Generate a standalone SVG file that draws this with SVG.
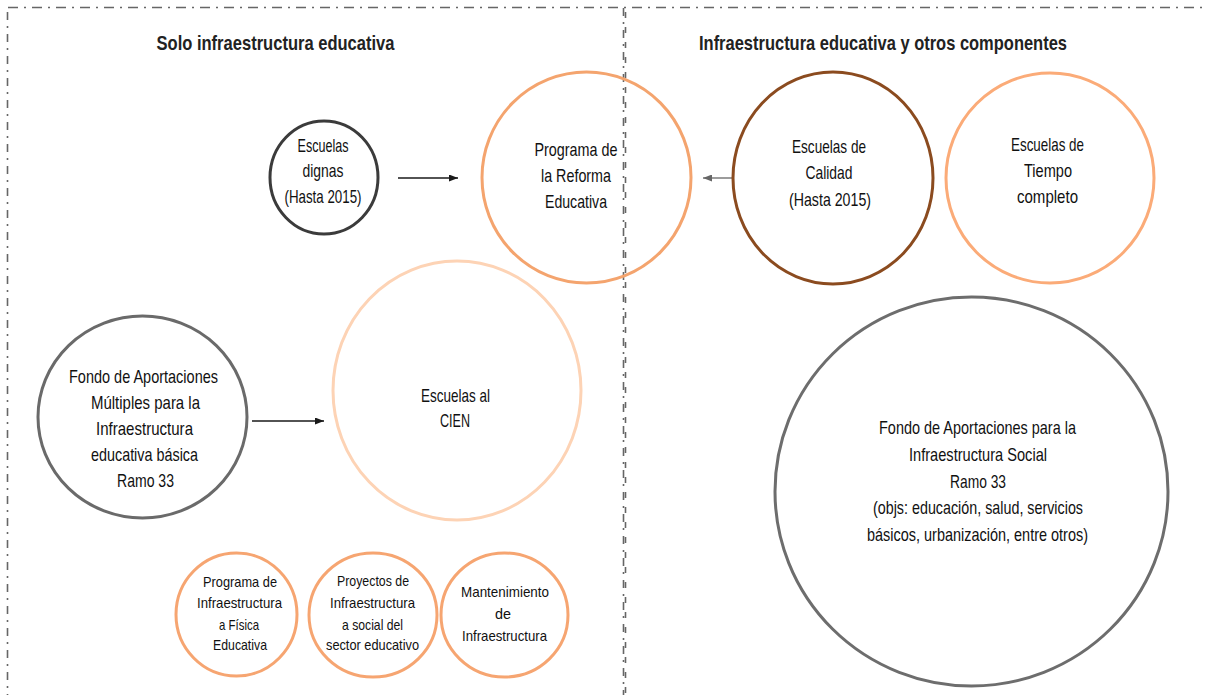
<svg xmlns="http://www.w3.org/2000/svg" width="1206" height="695" viewBox="0 0 1206 695">
<style>
.frame{stroke:#666;stroke-width:1.6;fill:none}
.node{fill:none;stroke-width:3}
.t{font-family:"Liberation Sans",Arial,sans-serif;font-size:19px;fill:#111;text-anchor:middle}
.s{font-size:15px}
.title{font-family:"Liberation Sans",Arial,sans-serif;font-size:21px;font-weight:bold;fill:#222;text-anchor:middle}
.conn{stroke-width:1.3;fill:none}
</style>
<defs>
<marker id="arrB" markerUnits="userSpaceOnUse" markerWidth="9" markerHeight="7" refX="9" refY="3.5" orient="auto"><path d="M0,0 L9,3.5 L0,7 z" fill="#1a1a1a"/></marker>
<marker id="arrG" markerUnits="userSpaceOnUse" markerWidth="9" markerHeight="7" refX="9" refY="3.5" orient="auto"><path d="M0,0 L9,3.5 L0,7 z" fill="#666"/></marker>
</defs>
<rect width="1206" height="695" fill="#fff"/>
<g id="frame">
<line class="frame" x1="8" y1="7.5" x2="1206" y2="7.5" stroke-dasharray="10 6 2 6"/>
<line class="frame" x1="7.5" y1="12" x2="7.5" y2="695" stroke-dasharray="8 6 2 6"/>
<line class="frame" x1="623.5" y1="8" x2="623.5" y2="695" stroke-dasharray="8 6 2 6" stroke="#555"/>
<line class="frame" x1="625.5" y1="12" x2="625.5" y2="695" stroke-dasharray="6 9" stroke="#888" stroke-width="1.2"/>
</g>
<g id="titles">
<text class="title" x="275.5" y="50" textLength="238" lengthAdjust="spacingAndGlyphs">Solo infraestructura educativa</text>
<text class="title" x="883" y="50" textLength="368" lengthAdjust="spacingAndGlyphs">Infraestructura educativa y otros componentes</text>
</g>
<g id="connectors">
<line class="conn" x1="398" y1="178" x2="458" y2="178" stroke="#1a1a1a" marker-end="url(#arrB)"/>
<line class="conn" x1="733" y1="178" x2="703" y2="178" stroke="#666" marker-end="url(#arrG)"/>
<line class="conn" x1="252" y1="421" x2="324" y2="421" stroke="#1a1a1a" marker-end="url(#arrB)"/>
</g>
<g id="escuelas-dignas">
<ellipse class="node" cx="324" cy="177.5" rx="54" ry="56.5" stroke="#3b3b3b"/>
<text class="t" x="323" y="152" textLength="51" lengthAdjust="spacingAndGlyphs">Escuelas</text>
<text class="t" x="323" y="177" textLength="41" lengthAdjust="spacingAndGlyphs">dignas</text>
<text class="t" x="323" y="203" textLength="77" lengthAdjust="spacingAndGlyphs">(Hasta 2015)</text>
</g>
<g id="reforma-educativa">
<ellipse class="node" cx="586.5" cy="177.5" rx="104.5" ry="105.5" stroke="#F4A46E"/>
<text class="t" x="576" y="156" textLength="83" lengthAdjust="spacingAndGlyphs">Programa de</text>
<text class="t" x="576" y="182" textLength="70" lengthAdjust="spacingAndGlyphs">la Reforma</text>
<text class="t" x="576" y="208" textLength="62" lengthAdjust="spacingAndGlyphs">Educativa</text>
</g>
<g id="escuelas-calidad">
<ellipse class="node" cx="833" cy="178" rx="100" ry="106" stroke="#8B4B1F"/>
<text class="t" x="829" y="152.5" textLength="74" lengthAdjust="spacingAndGlyphs">Escuelas de</text>
<text class="t" x="829" y="179" textLength="47" lengthAdjust="spacingAndGlyphs">Calidad</text>
<text class="t" x="830" y="205.5" textLength="82" lengthAdjust="spacingAndGlyphs">(Hasta 2015)</text>
</g>
<g id="tiempo-completo">
<ellipse class="node" cx="1050" cy="178" rx="104" ry="105" stroke="#FBAB78"/>
<text class="t" x="1047.5" y="150.7" textLength="73" lengthAdjust="spacingAndGlyphs">Escuelas de</text>
<text class="t" x="1048" y="176.7" textLength="48" lengthAdjust="spacingAndGlyphs">Tiempo</text>
<text class="t" x="1047.5" y="203.3" textLength="61" lengthAdjust="spacingAndGlyphs">completo</text>
</g>
<g id="escuelas-cien">
<ellipse class="node" cx="457" cy="390.5" rx="124" ry="129.5" stroke="#FDD3B5"/>
<text class="t" x="455.5" y="401.7" textLength="69" lengthAdjust="spacingAndGlyphs">Escuelas al</text>
<text class="t" x="455" y="426.7" textLength="30" lengthAdjust="spacingAndGlyphs">CIEN</text>
</g>
<g id="fam">
<ellipse class="node" cx="142.5" cy="417" rx="104.5" ry="101" stroke="#6a6a6a"/>
<text class="t" x="143.5" y="383" textLength="149" lengthAdjust="spacingAndGlyphs">Fondo de Aportaciones</text>
<text class="t" x="145.5" y="409" textLength="109" lengthAdjust="spacingAndGlyphs">Múltiples para la</text>
<text class="t" x="144.5" y="435" textLength="97" lengthAdjust="spacingAndGlyphs">Infraestructura</text>
<text class="t" x="144.5" y="461" textLength="107" lengthAdjust="spacingAndGlyphs">educativa básica</text>
<text class="t" x="145.5" y="487" textLength="57" lengthAdjust="spacingAndGlyphs">Ramo 33</text>
</g>
<g id="fais">
<ellipse class="node" cx="971.5" cy="491.5" rx="196.5" ry="194.5" stroke="#6d6d6d"/>
<text class="t" x="977.5" y="434" textLength="197" lengthAdjust="spacingAndGlyphs">Fondo de Aportaciones para la</text>
<text class="t" x="978" y="461" textLength="138" lengthAdjust="spacingAndGlyphs">Infraestructura Social</text>
<text class="t" x="978" y="488" textLength="56" lengthAdjust="spacingAndGlyphs">Ramo 33</text>
<text class="t" x="978" y="514" textLength="210" lengthAdjust="spacingAndGlyphs">(objs: educación, salud, servicios</text>
<text class="t" x="977.5" y="541" textLength="221" lengthAdjust="spacingAndGlyphs">básicos, urbanización, entre otros)</text>
</g>
<g id="infra-fisica">
<ellipse class="node" cx="236.5" cy="614.5" rx="60.5" ry="61.5" stroke="#F6A571"/>
<text class="t s" x="240" y="587" textLength="74" lengthAdjust="spacingAndGlyphs">Programa de</text>
<text class="t s" x="239.5" y="608" textLength="85" lengthAdjust="spacingAndGlyphs">Infraestructura</text>
<text class="t s" x="239" y="630" textLength="40" lengthAdjust="spacingAndGlyphs">a Física</text>
<text class="t s" x="240" y="650" textLength="54" lengthAdjust="spacingAndGlyphs">Educativa</text>
</g>
<g id="infra-social">
<ellipse class="node" cx="373" cy="615" rx="64" ry="62" stroke="#F6A571"/>
<text class="t s" x="373" y="586" textLength="72" lengthAdjust="spacingAndGlyphs">Proyectos de</text>
<text class="t s" x="372.5" y="608" textLength="85" lengthAdjust="spacingAndGlyphs">Infraestructura</text>
<text class="t s" x="372.5" y="630" textLength="61" lengthAdjust="spacingAndGlyphs">a social del</text>
<text class="t s" x="372.5" y="650" textLength="93" lengthAdjust="spacingAndGlyphs">sector educativo</text>
</g>
<g id="mantenimiento">
<ellipse class="node" cx="504.5" cy="615" rx="63.5" ry="62" stroke="#F6A571"/>
<text class="t s" x="505" y="597" textLength="88" lengthAdjust="spacingAndGlyphs">Mantenimiento</text>
<text class="t s" x="503" y="619" textLength="16" lengthAdjust="spacingAndGlyphs">de</text>
<text class="t s" x="504.5" y="641" textLength="85" lengthAdjust="spacingAndGlyphs">Infraestructura</text>
</g>
</svg>
